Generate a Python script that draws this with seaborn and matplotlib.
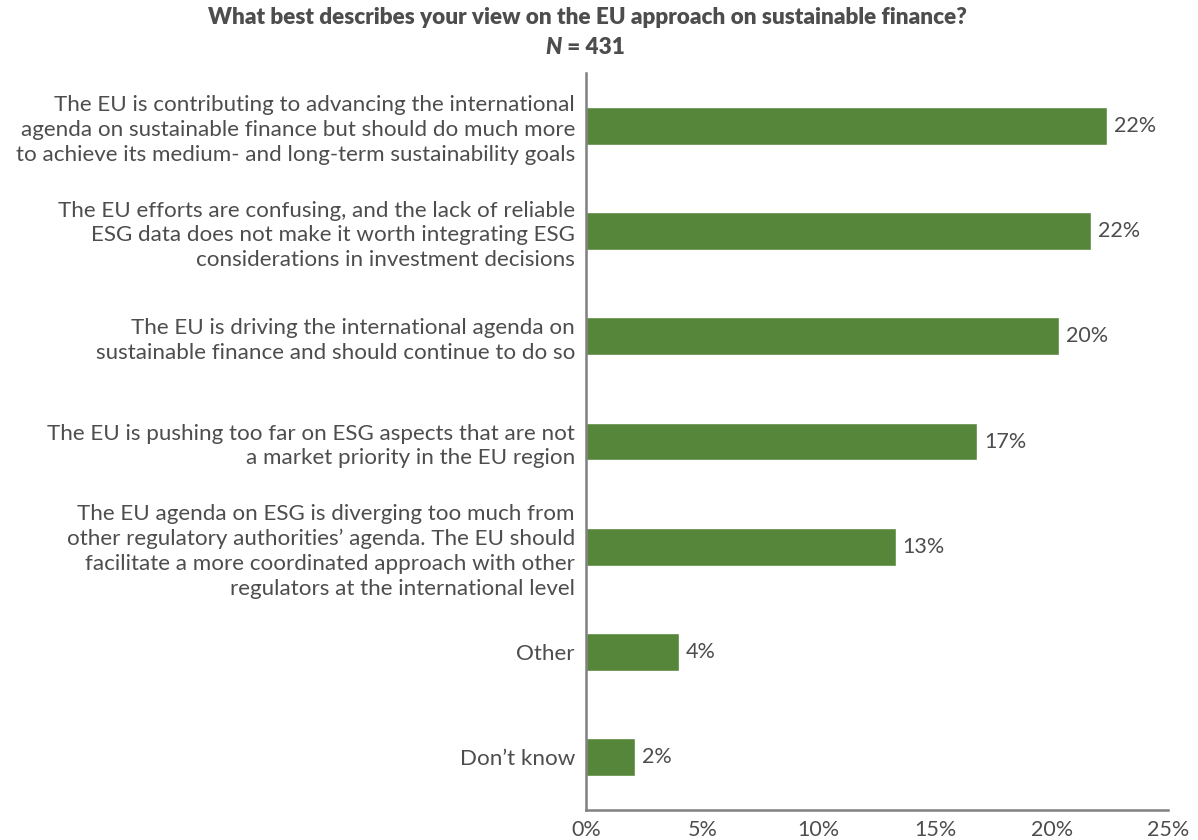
import matplotlib
matplotlib.use("Agg")
import matplotlib.pyplot as plt
import seaborn as sns
import pandas as pd

categories = [
    "The EU is contributing to advancing the international\nagenda on sustainable finance but should do much more\nto achieve its medium- and long-term sustainability goals",
    "The EU efforts are confusing, and the lack of reliable\nESG data does not make it worth integrating ESG\nconsiderations in investment decisions",
    "The EU is driving the international agenda on\nsustainable finance and should continue to do so",
    "The EU is pushing too far on ESG aspects that are not\na market priority in the EU region",
    "The EU agenda on ESG is diverging too much from\nother regulatory authorities\u2019 agenda. The EU should\nfacilitate a more coordinated approach with other\nregulators at the international level",
    "Other",
    "Don\u2019t know",
]
values = [22.4, 21.7, 20.3, 16.8, 13.3, 4.0, 2.1]
x_ticks = [0, 5, 10, 15, 20, 25]
title = "What best describes your view on the EU approach on sustainable finance?"
subtitle_n = "431"

sns.set_theme(style="white")
plt.rcParams["font.family"] = ["Lato", "DejaVu Sans"]

TEXT = "#4d4d4d"
GREEN = "#56863a"
AXIS = "#808080"

df = pd.DataFrame({"category": categories, "value": values})

fig = plt.figure(figsize=(11.98, 8.40), dpi=100)
ax = fig.add_axes([586 / 1198, 1 - 810 / 840, (1168 - 586) / 1198, (810 - 73) / 840])

sns.barplot(data=df, y="category", x="value", orient="h", color=GREEN,
            width=0.36, saturation=1, ax=ax)

for p, v in zip(ax.patches, values):
    ax.text(p.get_width() + 0.3, p.get_y() + p.get_height() / 2, f"{round(v)}%",
            va="center", ha="left", fontsize=15.5, color=TEXT)

ax.set_xlim(0, 25)
ax.set_ylim(6.5, -0.5)
ax.set_xticks(x_ticks)
ax.set_xticklabels([f"{t}%" for t in x_ticks], fontsize=15.5, color=TEXT)
ax.set_yticklabels(categories, fontsize=16.1, color=TEXT, linespacing=1.3)
ax.set_xlabel("")
ax.set_ylabel("")
ax.tick_params(axis="both", length=0)
ax.tick_params(axis="y", pad=8)
ax.tick_params(axis="x", pad=7)

for s in ["top", "right"]:
    ax.spines[s].set_visible(False)
for s in ["left", "bottom"]:
    ax.spines[s].set_color(AXIS)
    ax.spines[s].set_linewidth(1.8)

fig.text(587 / 1198, 1 - 18 / 840, title, ha="center", va="center",
         fontsize=16.2, fontweight="heavy", color=TEXT)
fig.text(562 / 1198, 1 - 47 / 840, "N", ha="right", va="center",
         fontsize=16.2, fontweight="heavy", fontstyle="italic", color=TEXT)
fig.text(562 / 1198, 1 - 47 / 840, f" = {subtitle_n}", ha="left", va="center",
         fontsize=16.2, fontweight="heavy", color=TEXT)

fig.savefig("out.png", dpi=100, facecolor="white")
